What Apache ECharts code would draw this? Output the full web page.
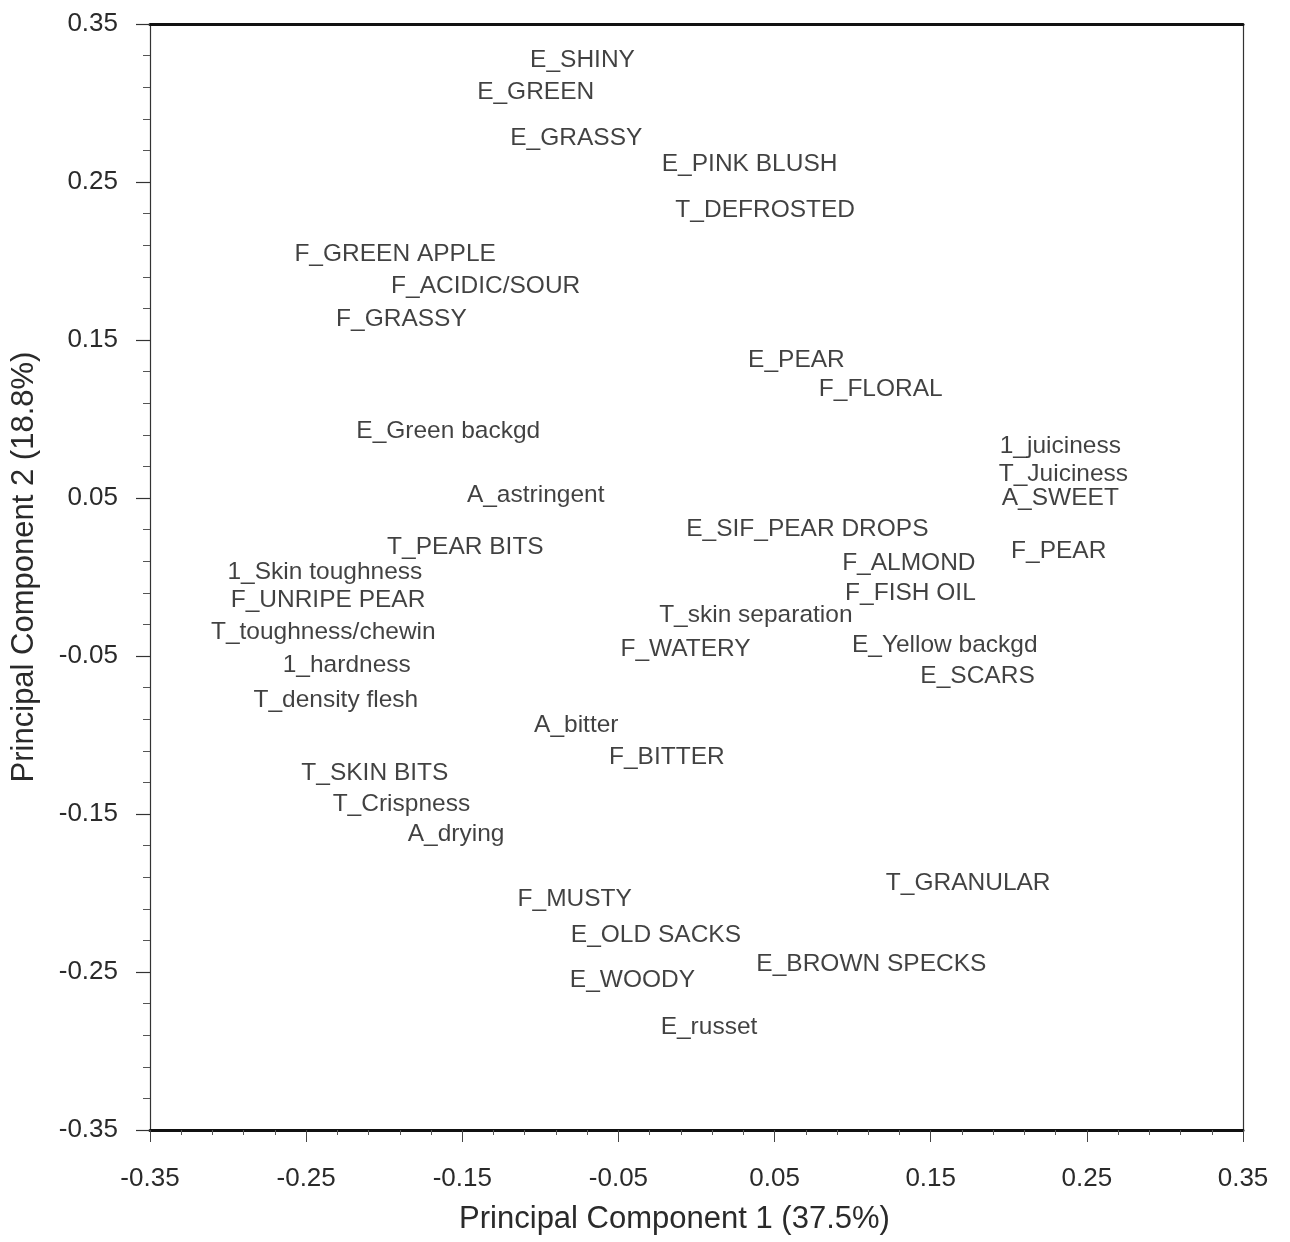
<!DOCTYPE html>
<html>
<head>
<meta charset="utf-8">
<title>PCA loadings</title>
<script src="https://cdn.jsdelivr.net/npm/echarts@6/dist/echarts.min.js"></script>
<style>
  html, body { margin: 0; padding: 0; background: #ffffff; }
  #chart { width: 1290px; height: 1242px; }
</style>
</head>
<body>
<div id="chart"></div>
<script>
// Sensory attribute loadings on the first two principal components
const attributes = [
  'E_SHINY', 'E_GREEN', 'E_GRASSY', 'E_PINK BLUSH', 'T_DEFROSTED',
  'F_GREEN APPLE', 'F_ACIDIC/SOUR', 'F_GRASSY', 'E_PEAR', 'F_FLORAL',
  'E_Green backgd', '1_juiciness', 'T_Juiciness', 'A_SWEET', 'F_PEAR',
  'A_astringent', 'E_SIF_PEAR DROPS', 'T_PEAR BITS', 'F_ALMOND', '1_Skin toughness',
  'F_FISH OIL', 'F_UNRIPE PEAR', 'T_skin separation', 'T_toughness/chewin', 'F_WATERY',
  'E_Yellow backgd', '1_hardness', 'E_SCARS', 'T_density flesh', 'A_bitter',
  'F_BITTER', 'T_SKIN BITS', 'T_Crispness', 'A_drying', 'T_GRANULAR',
  'F_MUSTY', 'E_OLD SACKS', 'E_BROWN SPECKS', 'E_WOODY', 'E_russet'
];
const pc1 = [
  -0.073, -0.103, -0.077, 0.034, 0.044,
  -0.193, -0.135, -0.189, 0.064, 0.118,
  -0.159, 0.233, 0.235, 0.233, 0.232,
  -0.103, 0.071, -0.148, 0.136, -0.238,
  0.137, -0.236, 0.038, -0.239, -0.007,
  0.159, -0.224, 0.180, -0.231, -0.077,
  -0.019, -0.206, -0.189, -0.154, 0.174,
  -0.078, -0.026, 0.112, -0.041, 0.008
];
const pc2 = [
  0.327, 0.307, 0.278, 0.261, 0.232,
  0.204, 0.184, 0.163, 0.137, 0.119,
  0.092, 0.083, 0.065, 0.050, 0.016,
  0.052, 0.030, 0.019, 0.009, 0.003,
  -0.010, -0.015, -0.024, -0.035, -0.046,
  -0.043, -0.056, -0.063, -0.078, -0.094,
  -0.114, -0.124, -0.144, -0.163, -0.194,
  -0.204, -0.227, -0.245, -0.255, -0.285
];
const axisMin = -0.35;
const axisMax = 0.35;
const axisStep = 0.1;

const FONT = '"Liberation Sans", Arial, Helvetica, sans-serif';
const INK = '#111111';

const points = attributes.map((name, i) => ({ name: name, value: [pc1[i], pc2[i]] }));
const fmt = v => (Math.abs(v) < 1e-9 ? 0 : v).toFixed(2);

const chart = echarts.init(document.getElementById('chart'), null, { renderer: 'canvas' });
chart.setOption({
  backgroundColor: '#ffffff',
  animation: false,
  grid: { left: 150, right: 47, top: 24, bottom: 112, containLabel: false },
  xAxis: [
    {
      type: 'value', position: 'bottom',
      min: axisMin, max: axisMax, interval: axisStep,
      name: 'Principal Component 1 (37.5%)',
      nameLocation: 'middle', nameGap: 74,
      nameTextStyle: { fontFamily: FONT, fontSize: 31, color: '#2a2a2a', padding: [0, 44, 0, 0] },
      axisLine: { show: true, onZero: false, lineStyle: { color: INK, width: 3 } },
      axisTick: { show: true, length: 12, lineStyle: { color: '#444', width: 1 } },
      minorTick: { show: true, splitNumber: 5, length: 5, lineStyle: { color: '#555', width: 1 } },
      axisLabel: { margin: 36, fontFamily: FONT, fontSize: 26, color: '#2a2a2a', formatter: fmt },
      splitLine: { show: false }
    },
    {
      type: 'value', position: 'top',
      min: axisMin, max: axisMax, interval: axisStep,
      axisLine: { show: true, onZero: false, lineStyle: { color: INK, width: 3 } },
      axisTick: { show: false },
      axisLabel: { show: false },
      splitLine: { show: false }
    }
  ],
  yAxis: [
    {
      type: 'value', position: 'left',
      min: axisMin, max: axisMax, interval: axisStep,
      name: 'Principal Component 2 (18.8%)',
      nameLocation: 'middle', nameGap: 110,
      nameTextStyle: { fontFamily: FONT, fontSize: 31, color: '#2a2a2a', padding: [0, 0, 0, 20] },
      axisLine: { show: true, onZero: false, lineStyle: { color: '#333', width: 1.2 } },
      axisTick: { show: true, length: 14, lineStyle: { color: '#333', width: 1.2 } },
      minorTick: { show: true, splitNumber: 5, length: 7, lineStyle: { color: '#555', width: 1 } },
      axisLabel: { margin: 32, fontFamily: FONT, fontSize: 26, color: '#2a2a2a', formatter: fmt },
      splitLine: { show: false }
    },
    {
      type: 'value', position: 'right',
      min: axisMin, max: axisMax, interval: axisStep,
      axisLine: { show: true, onZero: false, lineStyle: { color: '#333', width: 1.2 } },
      axisTick: { show: false },
      axisLabel: { show: false },
      splitLine: { show: false }
    }
  ],
  series: [
    {
      type: 'scatter',
      xAxisIndex: 0, yAxisIndex: 0,
      data: points,
      symbol: 'circle',
      symbolSize: 2,
      itemStyle: { color: 'rgba(0,0,0,0)' },
      label: {
        show: true,
        position: 'inside',
        formatter: p => p.name,
        fontFamily: FONT,
        fontSize: 24.5,
        color: INK
      },
      emphasis: { disabled: true },
      silent: true
    }
  ]
});
</script>
</body>
</html>
